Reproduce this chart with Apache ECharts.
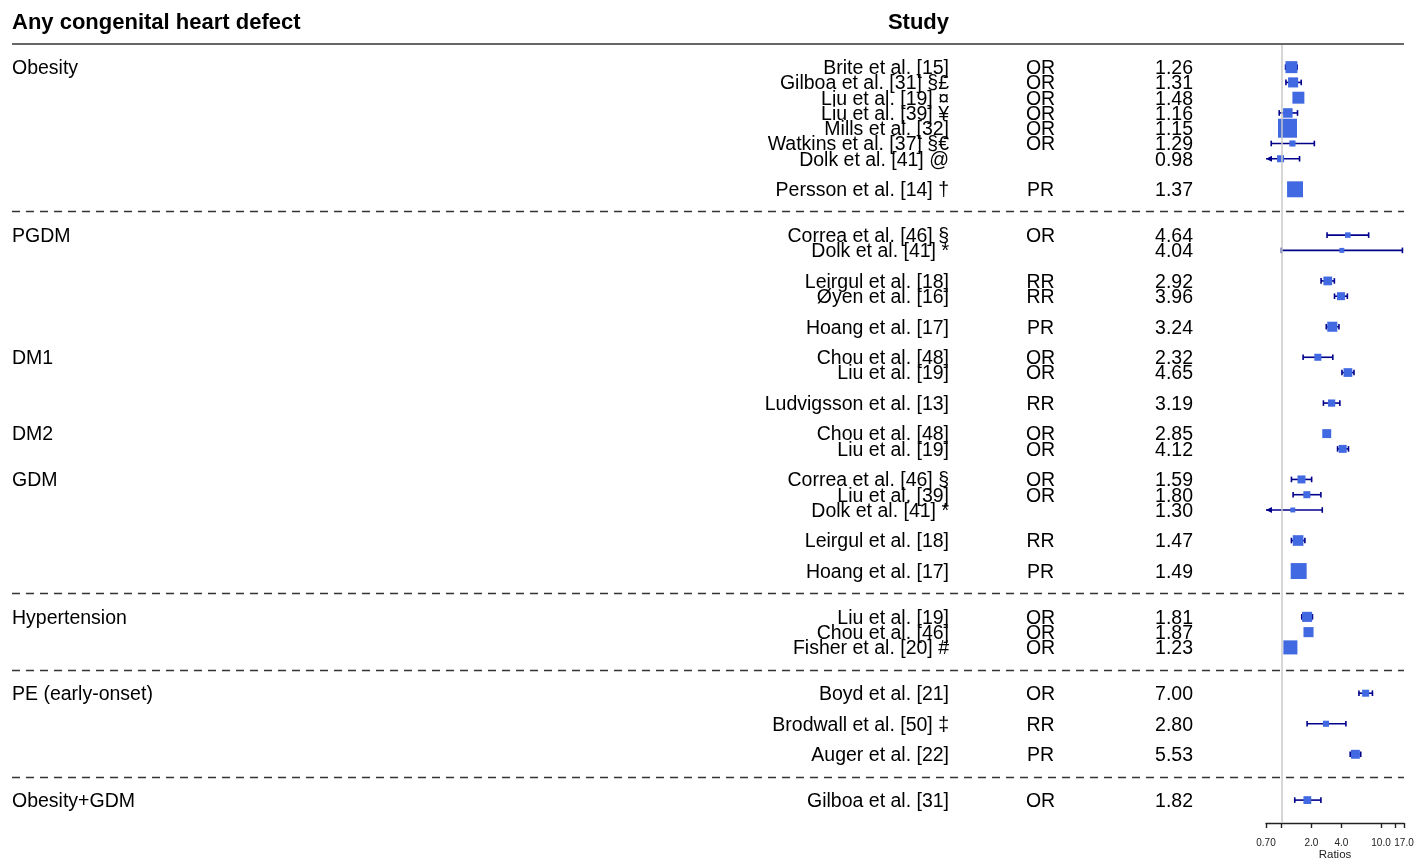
<!DOCTYPE html>
<html>
<head>
<meta charset="utf-8">
<script src="https://cdn.jsdelivr.net/npm/echarts@6/dist/echarts.min.js"></script>
<style>
  html, body { margin: 0; padding: 0; background: #fff; }
  #chart { width: 1428px; height: 858px; }
</style>
</head>
<body>
<div id="chart"></div>
<script>
// groups and the row each label sits on
const groupNames = ['Obesity', 'PGDM', 'DM1', 'DM2', 'GDM', 'Hypertension', 'PE (early-onset)', 'Obesity+GDM']
const groupRows = [0, 11, 19, 24, 27, 36, 41, 48]

// one entry per study
const studies = [
  'Brite et al. [15]', 'Gilboa et al. [31] §£', 'Liu et al. [19] ¤', 'Liu et al. [39] ¥', 'Mills et al. [32]',
  'Watkins et al. [37] §€', 'Dolk et al. [41] @', 'Persson et al. [14] †',
  'Correa et al. [46] §', 'Dolk et al. [41] *', 'Leirgul et al. [18]', 'Øyen et al. [16]', 'Hoang et al. [17]',
  'Chou et al. [48]', 'Liu et al. [19]', 'Ludvigsson et al. [13]',
  'Chou et al. [48]', 'Liu et al. [19]',
  'Correa et al. [46] §', 'Liu et al. [39]', 'Dolk et al. [41] *', 'Leirgul et al. [18]', 'Hoang et al. [17]',
  'Liu et al. [19]', 'Chou et al. [46]', 'Fisher et al. [20] #',
  'Boyd et al. [21]', 'Brodwall et al. [50] ‡', 'Auger et al. [22]',
  'Gilboa et al. [31]'
]
const studyRows = [0, 1, 2, 3, 4, 5, 6, 8, 11, 12, 14, 15, 17, 19, 20, 22, 24, 25, 27, 28, 29, 31, 33, 36, 37, 38, 41, 43, 45, 48]
const measures = [
  'OR', 'OR', 'OR', 'OR', 'OR', 'OR', '', 'PR',
  'OR', '', 'RR', 'RR', 'PR',
  'OR', 'OR', 'RR',
  'OR', 'OR',
  'OR', 'OR', '', 'RR', 'PR',
  'OR', 'OR', 'OR',
  'OR', 'RR', 'PR',
  'OR'
]
const estimates = [
  1.26, 1.31, 1.48, 1.16, 1.15, 1.29, 0.98, 1.37,
  4.64, 4.04, 2.92, 3.96, 3.24,
  2.32, 4.65, 3.19,
  2.85, 4.12,
  1.59, 1.80, 1.30, 1.47, 1.49,
  1.81, 1.87, 1.23,
  7.00, 2.80, 5.53,
  1.82
]
const lowers = [
  1.10, 1.11, 1.39, 0.95, 1.09, 0.79, 0.60, 1.30,
  2.87, 1.00, 2.50, 3.41, 2.82,
  1.65, 4.05, 2.64,
  2.70, 3.66,
  1.26, 1.31, 0.65, 1.26, 1.42,
  1.60, 1.75, 1.15,
  6.00, 1.81, 4.90,
  1.36
]
const uppers = [
  1.44, 1.58, 1.58, 1.45, 1.21, 2.14, 1.52, 1.45,
  7.51, 16.4, 3.40, 4.59, 3.78,
  3.28, 5.35, 3.86,
  3.00, 4.71,
  2.01, 2.49, 2.57, 1.72, 1.56,
  2.05, 2.00, 1.32,
  8.20, 4.44, 6.25,
  2.49
]
// relative study weight (largest = 1)
const weights = [
  0.63, 0.53, 0.63, 0.50, 1.00, 0.32, 0.37, 0.84,
  0.29, 0.26, 0.46, 0.42, 0.53,
  0.37, 0.46, 0.38,
  0.47, 0.42,
  0.42, 0.37, 0.26, 0.56, 0.84,
  0.53, 0.53, 0.74,
  0.37, 0.32, 0.47,
  0.41
]
// dashed separators between blocks (row positions)
const separatorRows = [9.45, 34.45, 39.5, 46.5]

const tickValues = [0.7, 1, 2, 4, 10, 14, 17]
const labelValues = [0.7, 2, 4, 10, 17]

const FONT = "'Liberation Sans', Arial, Helvetica, sans-serif"
const xMinLog = Math.log10(0.7)
const xMaxLog = Math.log10(17)
const MAX_BOX = 19
const LEFT_X = 12, RIGHT_X = 1404
const STUDY_X = 949, MEASURE_X = 1040.5, VALUE_X = 1193
const TEXT_DY = 1.5
const BLUE = '#4169E1', NAVY = '#00008B'

const chart = echarts.init(document.getElementById('chart'))

function renderForest(params, api) {
  const row = api.value(1)
  const c = api.coord([api.value(0), row])
  const xMin = api.coord([xMinLog, row])[0]
  const xMax = api.coord([xMaxLog, row])[0]
  let xl = api.coord([api.value(2), row])[0]
  let xh = api.coord([api.value(3), row])[0]
  const clipL = xl < xMin - 0.5
  const clipH = xh > xMax + 0.5
  if (clipL) xl = xMin
  if (clipH) xh = xMax
  const y = c[1]
  const lineStyle = { stroke: NAVY, lineWidth: 1.6 }
  const children = [
    { type: 'line', shape: { x1: xl, y1: y, x2: xh, y2: y }, style: lineStyle }
  ]
  if (clipL) {
    children.push({ type: 'polygon', shape: { points: [[xl, y], [xl + 6, y - 3], [xl + 6, y + 3]] }, style: { fill: NAVY } })
  } else {
    children.push({ type: 'line', shape: { x1: xl, y1: y - 2.8, x2: xl, y2: y + 2.8 }, style: lineStyle })
  }
  if (clipH) {
    children.push({ type: 'polygon', shape: { points: [[xh, y], [xh - 6, y - 3], [xh - 6, y + 3]] }, style: { fill: NAVY } })
  } else {
    children.push({ type: 'line', shape: { x1: xh, y1: y - 2.8, x2: xh, y2: y + 2.8 }, style: lineStyle })
  }
  const s = api.value(4) * MAX_BOX
  children.push({ type: 'rect', shape: { x: c[0] - s / 2, y: y - s / 2, width: s, height: s }, style: { fill: BLUE } })
  return { type: 'group', children }
}

function renderStudyText(params, api) {
  const i = params.dataIndex
  const y = api.coord([0, api.value(1)])[1] + TEXT_DY
  const base = { fontFamily: FONT, fontSize: 19.5, fill: '#000', verticalAlign: 'middle' }
  return {
    type: 'group',
    children: [
      { type: 'text', x: STUDY_X, y, style: Object.assign({ text: studies[i], align: 'right' }, base) },
      { type: 'text', x: MEASURE_X, y, style: Object.assign({ text: measures[i], align: 'center' }, base) },
      { type: 'text', x: VALUE_X, y, style: Object.assign({ text: estimates[i].toFixed(2), align: 'right' }, base) }
    ]
  }
}

function renderGroup(params, api) {
  const y = api.coord([0, api.value(1)])[1] + TEXT_DY
  return {
    type: 'text', x: LEFT_X, y,
    style: { text: groupNames[params.dataIndex], fontFamily: FONT, fontSize: 19.5, fill: '#000', align: 'left', verticalAlign: 'middle' }
  }
}

function renderSeparator(params, api) {
  const y = Math.round(api.coord([0, api.value(1)])[1]) + 0.5
  return {
    type: 'line',
    shape: { x1: LEFT_X, y1: y, x2: RIGHT_X, y2: y },
    style: { stroke: '#333', lineWidth: 1.5, lineDash: [8, 6] }
  }
}

const lg = v => Math.log10(v)

const option = {
  animation: false,
  backgroundColor: '#fff',
  grid: { left: 1266, right: 24, top: 45, bottom: 35, containLabel: false, outerBoundsMode: 'none' },
  xAxis: {
    type: 'value',
    min: xMinLog,
    max: xMaxLog,
    name: 'Ratios',
    nameLocation: 'middle',
    nameGap: 26,
    nameMoveOverlap: false,
    nameTextStyle: { fontFamily: FONT, fontSize: 11.5, color: '#222' },
    axisLine: { onZero: false, lineStyle: { color: '#222', width: 1.4 } },
    axisTick: { customValues: tickValues.map(lg), length: 5, lineStyle: { color: '#222', width: 1.4 } },
    axisLabel: {
      customValues: labelValues.map(lg),
      fontFamily: FONT, fontSize: 10, color: '#222', margin: 15,
      formatter: v => {
        const r = Math.pow(10, v)
        return r < 1 ? r.toFixed(2) : r.toFixed(1)
      }
    },
    splitLine: { show: false }
  },
  yAxis: { type: 'value', inverse: true, min: -1.45, max: 49.5, show: false },
  graphic: [
    { type: 'text', x: LEFT_X, y: 21 + TEXT_DY, style: { text: 'Any congenital heart defect', fontFamily: FONT, fontSize: 22, fontWeight: 'bold', fill: '#000', align: 'left', verticalAlign: 'middle' } },
    { type: 'text', x: STUDY_X, y: 21 + TEXT_DY, style: { text: 'Study', fontFamily: FONT, fontSize: 22, fontWeight: 'bold', fill: '#000', align: 'right', verticalAlign: 'middle' } },
    { type: 'line', shape: { x1: LEFT_X, y1: 44, x2: RIGHT_X, y2: 44 }, style: { stroke: '#333', lineWidth: 1.5 } }
  ],
  series: [
    {
      type: 'custom',
      name: 'separators',
      clip: false,
      z: 1,
      renderItem: renderSeparator,
      data: separatorRows.map(r => [0, r]),
      markLine: {
        silent: true,
        symbol: 'none',
        label: { show: false },
        lineStyle: { color: '#c8c8c8', width: 1.5, type: 'solid' },
        data: [{ xAxis: 0 }]
      }
    },
    {
      type: 'custom',
      name: 'groups',
      clip: false,
      z: 2,
      renderItem: renderGroup,
      data: groupRows.map(r => [0, r])
    },
    {
      type: 'custom',
      name: 'text',
      clip: false,
      z: 2,
      renderItem: renderStudyText,
      data: studyRows.map(r => [0, r])
    },
    {
      type: 'custom',
      name: 'forest',
      clip: false,
      z: 3,
      renderItem: renderForest,
      data: studyRows.map((r, i) => [lg(estimates[i]), r, lg(lowers[i]), lg(uppers[i]), weights[i]])
    }
  ]
}

chart.setOption(option)
</script>
</body>
</html>
